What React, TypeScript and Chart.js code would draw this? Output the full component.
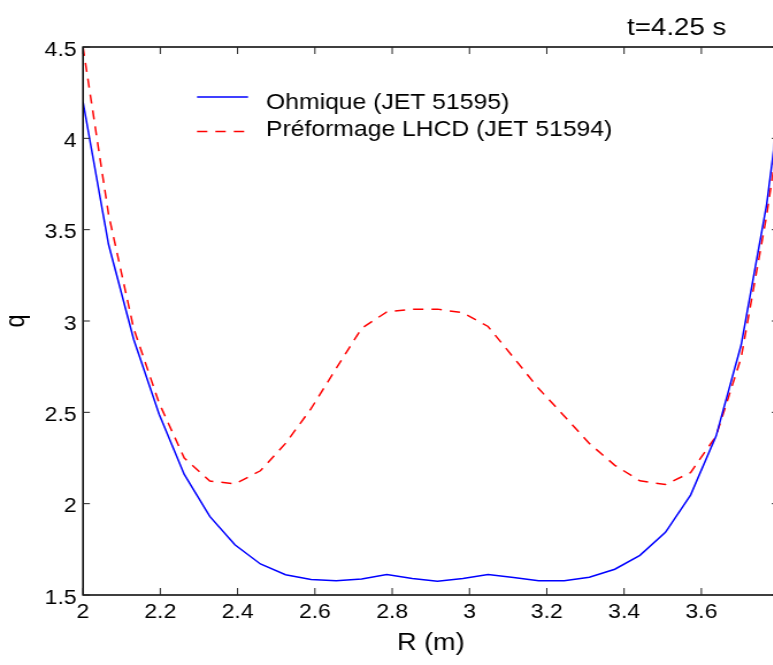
import { useEffect, useRef } from 'react';
import { Chart, registerables } from 'chart.js';

Chart.register(...registerables);

// ---- data ----
const radius = [
  2.0, 2.066, 2.131, 2.197, 2.262, 2.328, 2.393, 2.459, 2.524, 2.59,
  2.655, 2.721, 2.786, 2.852, 2.917, 2.983, 3.048, 3.114, 3.179, 3.245,
  3.31, 3.376, 3.441, 3.507, 3.572, 3.638, 3.703, 3.769, 3.834,
];
const qOhmique = [
  4.2, 3.42, 2.9, 2.49, 2.16, 1.93, 1.775, 1.67, 1.611, 1.585,
  1.578, 1.588, 1.612, 1.59, 1.575, 1.59, 1.612, 1.596, 1.578, 1.578,
  1.597, 1.641, 1.717, 1.843, 2.047, 2.37, 2.87, 3.64, 4.7,
];
const qLhcd = [
  4.5, 3.585, 2.96, 2.55, 2.25, 2.124, 2.108, 2.18, 2.33, 2.52,
  2.74, 2.96, 3.05, 3.065, 3.065, 3.045, 2.97, 2.8, 2.63, 2.48,
  2.33, 2.21, 2.125, 2.105, 2.17, 2.37, 2.8, 3.58, 4.5,
];
const seriesLabels = ['Ohmique (JET 51595)', 'Préformage LHCD (JET 51594)'];
const xTickValues = [2, 2.2, 2.4, 2.6, 2.8, 3, 3.2, 3.4, 3.6];
const xTickLabels = ['2', '2.2', '2.4', '2.6', '2.8', '3', '3.2', '3.4', '3.6'];
const yTickValues = [1.5, 2, 2.5, 3, 3.5, 4, 4.5];
const yTickLabels = ['1.5', '2', '2.5', '3', '3.5', '4', '4.5'];
const titleText = 't=4.25 s';
const xTitle = 'R (m)';
const yTitle = 'q';

// ---- layout / style ----
const FONT = "'Liberation Sans', Arial, Helvetica, sans-serif";
const STRETCH = 1.15; // the reference is horizontally stretched
const W = 680;
const H = 665;
const PLOT_LEFT = 72.17;
const PLOT_RIGHT = 677.1;
const PLOT_TOP = 47;
const PLOT_BOTTOM = 595;

const framePlugin = {
  id: 'frameTicksLegend',
  afterDraw(chart: any) {
    const { ctx, chartArea } = chart;
    const { left, right, top, bottom } = chartArea;
    const xs = chart.scales.x;
    const ys = chart.scales.y;
    ctx.save();
    // frame
    ctx.strokeStyle = '#000';
    ctx.lineWidth = 1.5;
    ctx.setLineDash([]);
    ctx.beginPath();
    ctx.moveTo(left, top);
    ctx.lineTo(left, bottom);
    ctx.lineTo(right, bottom);
    ctx.lineTo(right, top);
    ctx.closePath();
    ctx.stroke();
    // inward ticks
    ctx.lineWidth = 1;
    ctx.strokeStyle = '#222';
    ctx.beginPath();
    for (const t of xs.ticks) {
      const px = xs.getPixelForValue(t.value);
      ctx.moveTo(px, bottom);
      ctx.lineTo(px, bottom - 7);
      ctx.moveTo(px, top);
      ctx.lineTo(px, top + 7);
    }
    for (const t of ys.ticks) {
      const py = ys.getPixelForValue(t.value);
      ctx.moveTo(left, py);
      ctx.lineTo(left + 6, py);
      ctx.moveTo(right, py);
      ctx.lineTo(right - 6, py);
    }
    ctx.stroke();

    // legend
    const lineYs = [97, 131.5];
    const textYs = [108.5, 135.7];
    chart.data.datasets.forEach((ds: any, i: number) => {
      ctx.strokeStyle = ds.borderColor;
      ctx.lineWidth = ds.borderWidth;
      ctx.setLineDash(ds.borderDash || []);
      ctx.beginPath();
      ctx.moveTo(171.3, lineYs[i]);
      ctx.lineTo(215.7, lineYs[i]);
      ctx.stroke();
      ctx.setLineDash([]);
      ctx.fillStyle = '#000';
      ctx.font = `21.5px ${FONT}`;
      ctx.textAlign = 'left';
      ctx.textBaseline = 'alphabetic';
      ctx.fillText(ds.label, 231.3, textYs[i]);
    });

    // title text
    ctx.fillStyle = '#000';
    ctx.font = `24px ${FONT}`;
    ctx.textAlign = 'center';
    ctx.textBaseline = 'alphabetic';
    ctx.fillText(titleText, 588.4, 35);
    ctx.restore();
  },
};

export default function App() {
  const canvasRef = useRef<HTMLCanvasElement | null>(null);

  useEffect(() => {
    const canvas = canvasRef.current;
    if (!canvas) return;
    const chart = new Chart(canvas, {
      type: 'line',
      data: {
        datasets: [
          {
            label: seriesLabels[0],
            data: radius.map((r, i) => ({ x: r, y: qOhmique[i] })),
            borderColor: '#0000ff',
            borderWidth: 1.5,
            pointRadius: 0,
            tension: 0,
            fill: false,
          },
          {
            label: seriesLabels[1],
            data: radius.map((r, i) => ({ x: r, y: qLhcd[i] })),
            borderColor: '#ff0000',
            borderWidth: 1.5,
            borderDash: [9, 7],
            pointRadius: 0,
            tension: 0,
            fill: false,
          },
        ],
      },
      options: {
        responsive: false,
        animation: false,
        devicePixelRatio: 1,
        layout: {
          padding: { left: 0, top: PLOT_TOP, right: W - PLOT_RIGHT, bottom: 0 },
        },
        plugins: {
          legend: { display: false },
          title: { display: false },
          tooltip: { enabled: false },
        },
        scales: {
          x: {
            type: 'linear',
            min: 2,
            max: 3.8,
            grid: { display: false, drawTicks: false },
            border: { display: false },
            afterBuildTicks: (s: any) => {
              s.ticks = xTickValues.map((v) => ({ value: v }));
            },
            afterFit: (s: any) => {
              s.height = H - PLOT_BOTTOM;
            },
            ticks: {
              autoSkip: false,
              maxRotation: 0,
              padding: 5,
              color: '#000',
              font: { family: FONT, size: 20 },
              callback: (_v: any, i: number) => xTickLabels[i],
            },
            title: {
              display: true,
              text: xTitle,
              color: '#000',
              font: { family: FONT, size: 23.5 },
              padding: { top: 0, bottom: 7 },
            },
          },
          y: {
            type: 'linear',
            min: 1.5,
            max: 4.5,
            grid: { display: false, drawTicks: false },
            border: { display: false },
            afterBuildTicks: (s: any) => {
              s.ticks = yTickValues.map((v) => ({ value: v }));
            },
            afterFit: (s: any) => {
              s.width = PLOT_LEFT;
            },
            ticks: {
              autoSkip: false,
              padding: 5.5,
              labelOffset: 3,
              color: '#000',
              font: { family: FONT, size: 20 },
              callback: (_v: any, i: number) => yTickLabels[i],
            },
            title: {
              display: true,
              text: yTitle,
              color: '#000',
              font: { family: FONT, size: 23.5, lineHeight: 1 },
              padding: { top: 3, bottom: 0 },
            },
          },
        },
      },
      plugins: [framePlugin],
    } as any);
    return () => chart.destroy();
  }, []);

  return (
    <div
      style={{
        position: 'fixed',
        left: 0,
        top: 0,
        width: 773,
        height: 665,
        overflow: 'hidden',
        background: '#fff',
      }}
    >
      <canvas
        ref={canvasRef}
        width={W}
        height={H}
        style={{ width: `${W * STRETCH}px`, height: `${H}px`, display: 'block' }}
      />
    </div>
  );
}
